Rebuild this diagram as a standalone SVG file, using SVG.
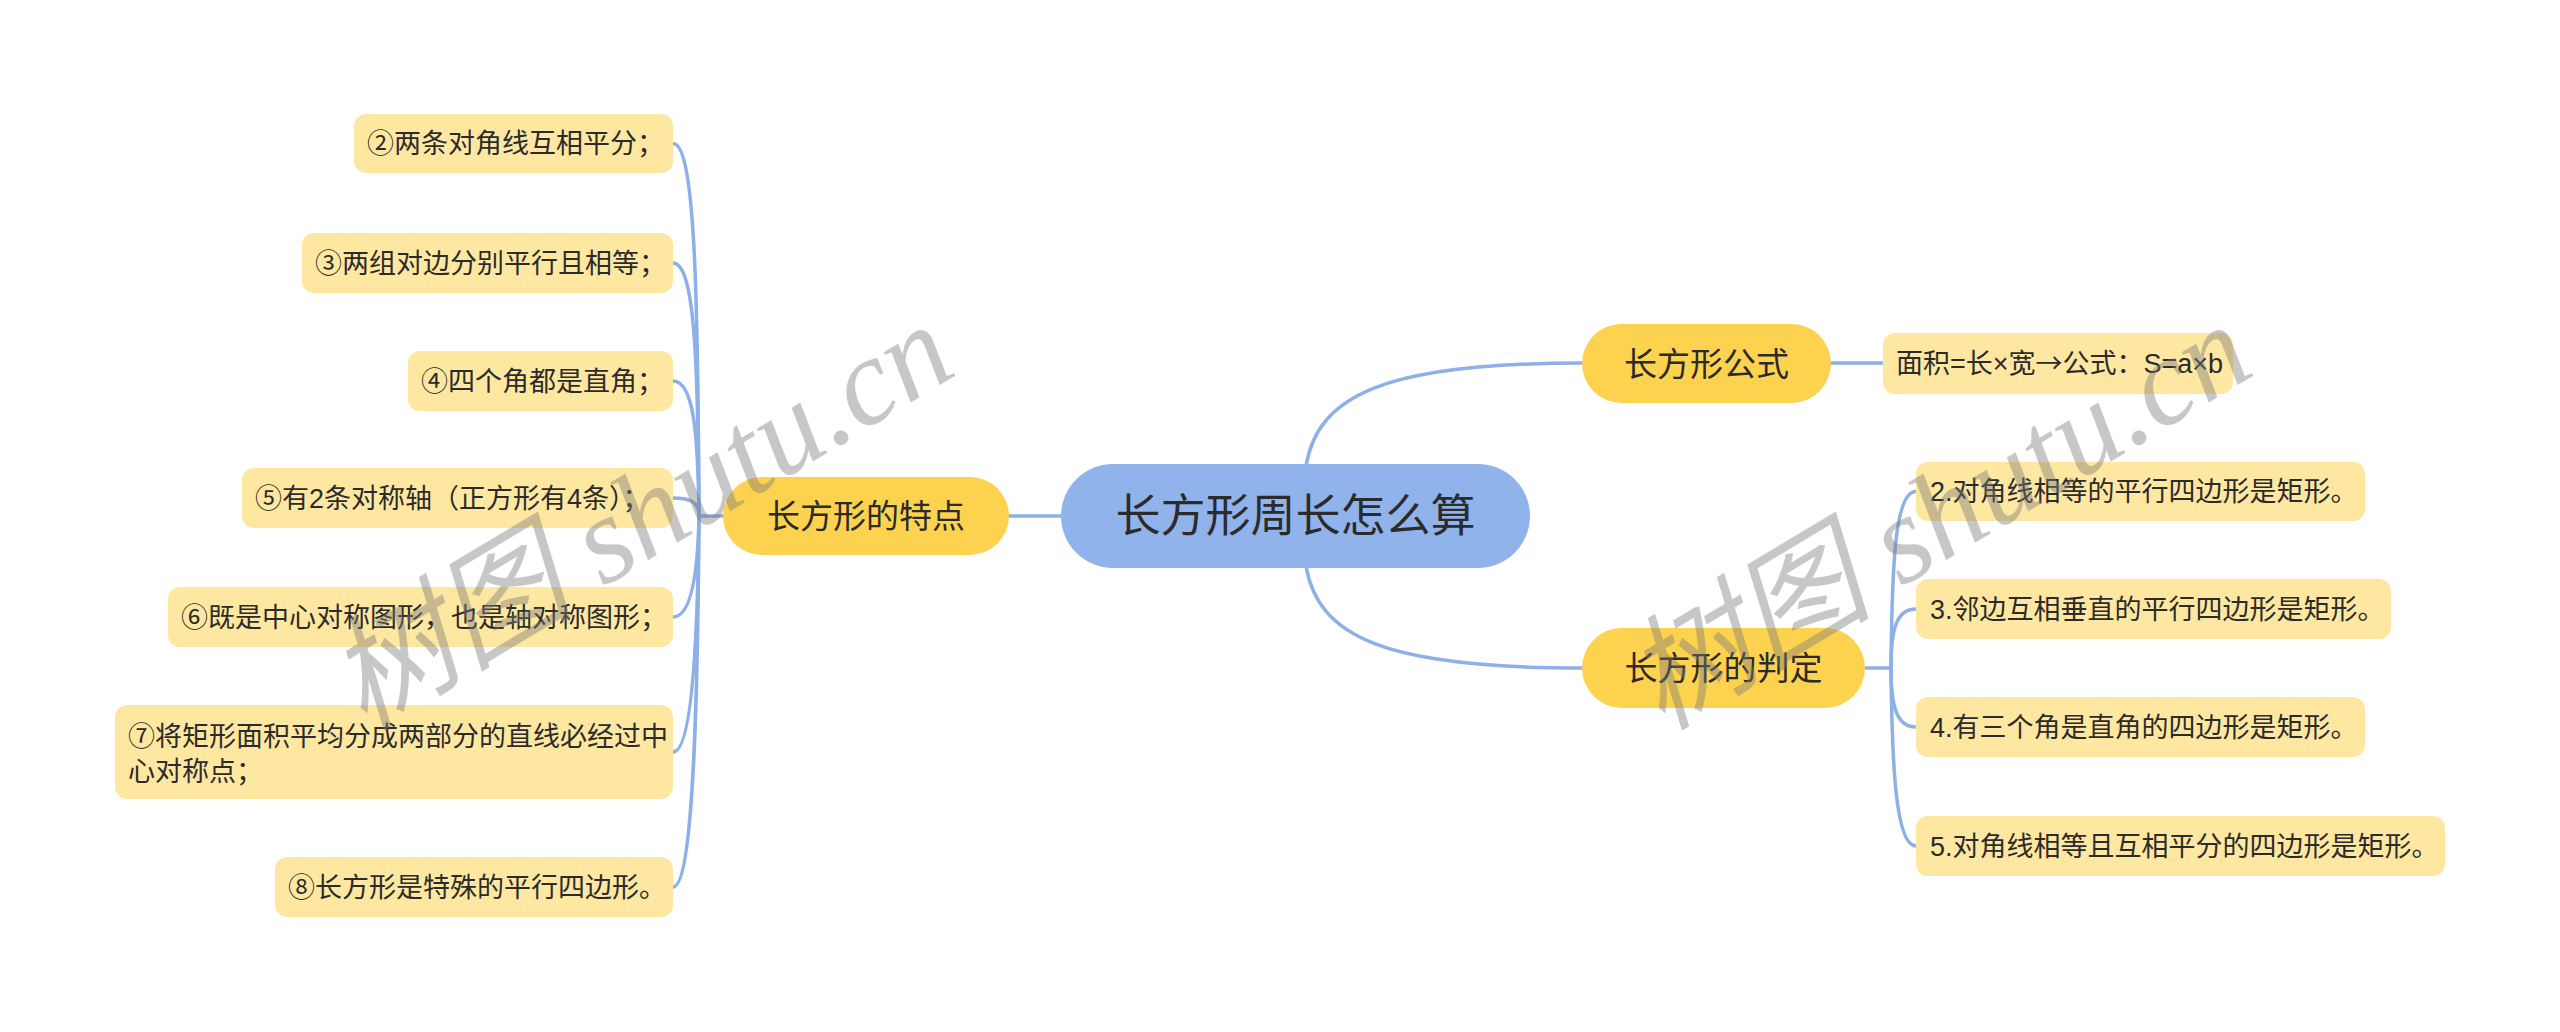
<svg xmlns="http://www.w3.org/2000/svg" width="2560" height="1032" viewBox="0 0 2560 1032">
<style>
.bg{fill:#ffffff}
.center{fill:#91b3eb}
.main{fill:#fdd24f}
.leaf{fill:#fee7a1}
.conn{fill:none;stroke:#8cb0e7;stroke-width:3.5;stroke-linecap:round}
.t{font-family:"Noto Sans CJK SC","Noto Sans",sans-serif;fill:#2b2b2b}
.tc{font-size:45px;text-anchor:middle}
.tm{font-size:33px;text-anchor:middle}
.tl{font-family:"Liberation Sans","Noto Sans CJK SC",sans-serif;font-size:27px}
.cjk{font-family:"Noto Sans CJK SC",sans-serif}
.wm{font-family:"Liberation Serif","Noto Sans CJK SC",serif;font-style:italic;font-size:124px;fill:#7a7a7a;fill-opacity:0.42}
</style>
<rect class="bg" x="0" y="0" width="2560" height="1032"/>
<g id="connectors">
<path class="conn" d="M1009,516 L1061,516"/>
<path class="conn" d="M723,516 L699,516"/>
<path class="conn" d="M673,143.5 C695,143.5 698,293 699,516"/>
<path class="conn" d="M673,263 C695,263 698,364 699,516"/>
<path class="conn" d="M673,381 C694,381 698,435 699,516"/>
<path class="conn" d="M673,498 C692,498 699,503 699,516"/>
<path class="conn" d="M673,617 C693,617 698,565 699,516"/>
<path class="conn" d="M673,752 C694,752 698,610 699,516"/>
<path class="conn" d="M673,887 C695,887 698,665 699,516"/>
<path class="conn" d="M1306,466 C1318,395 1385,363 1582,363"/>
<path class="conn" d="M1306,566 C1318,637 1385,668 1582,668"/>
<path class="conn" d="M1831,363 L1883,363"/>
<path class="conn" d="M1865,668 L1891,668"/>
<path class="conn" d="M1916,491.5 C1895,491.5 1892,562 1891,668"/>
<path class="conn" d="M1916,609 C1896,609 1891,630 1891,668"/>
<path class="conn" d="M1916,727 C1896,727 1891,705 1891,668"/>
<path class="conn" d="M1916,846 C1895,846 1892,760 1891,668"/>
</g>
<g id="root">
<rect class="center" x="1061" y="464" width="469" height="104" rx="52"/>
<text class="t tc" x="1295.5" y="532">长方形周长怎么算</text>
</g>
<g id="n-tedian">
<rect class="main" x="723" y="477" width="286" height="78" rx="39"/>
<text class="t tm" x="866" y="528">长方形的特点</text>
</g>
<g id="n-gongshi">
<rect class="main" x="1582" y="324" width="249" height="79" rx="39.5"/>
<text class="t tm" x="1706.5" y="375.5">长方形公式</text>
</g>
<g id="n-panding">
<rect class="main" x="1582" y="628" width="283" height="80" rx="40"/>
<text class="t tm" x="1723.5" y="680">长方形的判定</text>
</g>
<g id="l2">
<rect class="leaf" x="354" y="114" width="319" height="59" rx="12"/>
<text class="t tl" x="367" y="153">②两条对角线互相平分；</text>
</g>
<g id="l3">
<rect class="leaf" x="302" y="233" width="371" height="60" rx="12"/>
<text class="t tl" x="315" y="272.5">③两组对边分别平行且相等；</text>
</g>
<g id="l4">
<rect class="leaf" x="408" y="351" width="265" height="60" rx="12"/>
<text class="t tl" x="421" y="390.5">④四个角都是直角；</text>
</g>
<g id="l5">
<rect class="leaf" x="242" y="468" width="431" height="60" rx="12"/>
<text class="t tl" x="255" y="507.5">⑤有2条对称轴（正方形有4条）；</text>
</g>
<g id="l6">
<rect class="leaf" x="168" y="587" width="505" height="60" rx="12"/>
<text class="t tl" x="181" y="626.5">⑥既是中心对称图形，也是轴对称图形；</text>
</g>
<g id="l7">
<rect class="leaf" x="115" y="705" width="558" height="94" rx="12"/>
<text class="t tl" x="128" y="745.5">⑦将矩形面积平均分成两部分的直线必经过中</text>
<text class="t tl" x="128" y="780.5">心对称点；</text>
</g>
<g id="l8">
<rect class="leaf" x="275" y="857" width="398" height="60" rx="12"/>
<text class="t tl" x="288" y="896.5">⑧长方形是特殊的平行四边形。</text>
</g>
<g id="f1">
<rect class="leaf" x="1883" y="333" width="350" height="61" rx="12"/>
<text class="t tl" x="1896" y="372.5">面积=长×宽<tspan class="cjk">→</tspan>公式：S=a×b</text>
</g>
<g id="p2">
<rect class="leaf" x="1916" y="462" width="449" height="59" rx="12"/>
<text class="t tl" x="1930" y="501">2.对角线相等的平行四边形是矩形。</text>
</g>
<g id="p3">
<rect class="leaf" x="1916" y="579" width="475" height="60" rx="12"/>
<text class="t tl" x="1930" y="618.5">3.邻边互相垂直的平行四边形是矩形。</text>
</g>
<g id="p4">
<rect class="leaf" x="1916" y="697" width="449" height="60" rx="12"/>
<text class="t tl" x="1930" y="736.5">4.有三个角是直角的四边形是矩形。</text>
</g>
<g id="p5">
<rect class="leaf" x="1916" y="816" width="529" height="60" rx="12"/>
<text class="t tl" x="1930" y="855.5">5.对角线相等且互相平分的四边形是矩形。</text>
</g>
<g id="watermark">
<text class="wm" x="0" y="0" text-anchor="middle" transform="translate(662,552) rotate(-31)">树图 shutu.cn</text>
<text class="wm" x="0" y="0" text-anchor="middle" transform="translate(1960,552) rotate(-31)">树图 shutu.cn</text>
</g>
</svg>
